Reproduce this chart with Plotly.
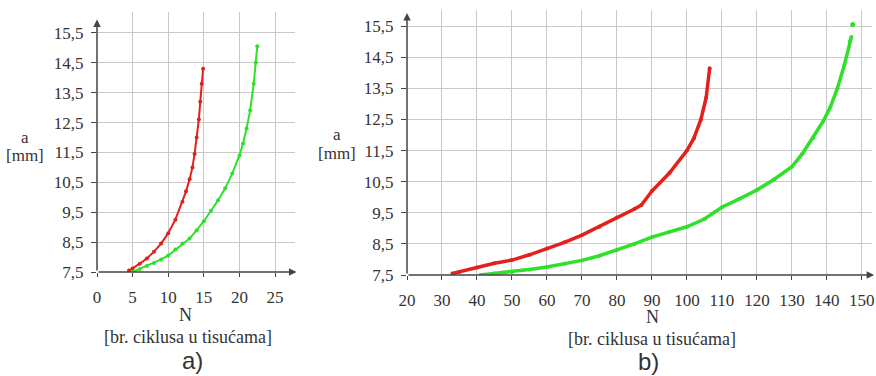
import plotly.graph_objects as go

# ---- data (panel a) ----
a_red_N = [4.5, 5, 6, 7, 8, 9, 10, 11, 12, 12.5, 13, 13.4, 13.7, 14.0, 14.3, 14.5, 14.7, 14.9]
a_red_a = [7.55, 7.62, 7.78, 7.95, 8.18, 8.45, 8.8, 9.25, 9.85, 10.2, 10.6, 11.0, 11.45, 12.0, 12.6, 13.2, 13.8, 14.3]
a_green_N = [5, 6, 7, 8, 9, 10, 11, 12, 13, 14, 15, 16, 17, 18, 19, 20, 20.5, 21, 21.5, 22, 22.3, 22.5]
a_green_a = [7.5, 7.6, 7.7, 7.8, 7.92, 8.05, 8.25, 8.45, 8.62, 8.9, 9.2, 9.55, 9.9, 10.3, 10.8, 11.4, 11.8, 12.3, 12.9, 13.8, 14.5, 15.05]

# ---- data (panel b) ----
b_red_N = [33, 35, 40, 45, 50, 55, 60, 65, 70, 75, 80, 85, 87, 90, 95, 100, 102, 104, 105.5, 106.5]
b_red_a = [7.55, 7.6, 7.74, 7.88, 7.98, 8.15, 8.35, 8.55, 8.78, 9.05, 9.35, 9.62, 9.75, 10.2, 10.78, 11.5, 11.9, 12.5, 13.2, 14.15]
b_green_N = [41, 45, 50, 55, 60, 65, 70, 75, 80, 85, 90, 95, 100, 105, 110, 115, 120, 125, 130, 133, 136, 139, 141, 143, 145, 146.5, 147.0]
b_green_a = [7.5, 7.55, 7.6, 7.68, 7.76, 7.86, 7.97, 8.12, 8.3, 8.5, 8.72, 8.88, 9.05, 9.3, 9.68, 9.95, 10.23, 10.58, 10.98, 11.4, 11.9, 12.45, 12.9, 13.5, 14.25, 15.0, 15.15]
b_green_outlier_N = [147.4]
b_green_outlier_a = [15.55]

# ---- ticks ----
y_tick_vals = [7.5, 8.5, 9.5, 10.5, 11.5, 12.5, 13.5, 14.5, 15.5]
y_tick_text = ["7,5", "8,5", "9,5", "10,5", "11,5", "12,5", "13,5", "14,5", "15,5"]
a_x_ticks = [0, 5, 10, 15, 20, 25]
b_x_ticks = [20, 30, 40, 50, 60, 70, 80, 90, 100, 110, 120, 130, 140, 150]

RED = "#e4201c"
GREEN = "#2fe02a"
GRID = "#c9c9c9"
AX = "#444444"
TXT = "#333333"
SERIF = "Liberation Serif, Times New Roman, serif"

fig = go.Figure()

fig.add_trace(go.Scatter(x=a_red_N, y=a_red_a, mode="lines+markers", xaxis="x", yaxis="y",
                         line=dict(color=RED, width=2), marker=dict(color=RED, size=4)))
fig.add_trace(go.Scatter(x=a_green_N, y=a_green_a, mode="lines+markers", xaxis="x", yaxis="y",
                         line=dict(color=GREEN, width=2), marker=dict(color=GREEN, size=4)))
fig.add_trace(go.Scatter(x=b_red_N, y=b_red_a, mode="lines+markers", xaxis="x2", yaxis="y2",
                         line=dict(color=RED, width=3.5), marker=dict(color=RED, size=4)))
fig.add_trace(go.Scatter(x=b_green_N, y=b_green_a, mode="lines+markers", xaxis="x2", yaxis="y2",
                         line=dict(color=GREEN, width=3.5), marker=dict(color=GREEN, size=4)))
fig.add_trace(go.Scatter(x=b_green_outlier_N, y=b_green_outlier_a, mode="markers", xaxis="x2", yaxis="y2",
                         marker=dict(color=GREEN, size=5)))

W, H = 876, 376

def px_x(p):
    return p / W

def px_y(p):
    return (H - p) / H

tickfont = dict(family=SERIF, size=17, color=TXT)
xcommon = dict(showgrid=True, gridcolor=GRID, gridwidth=1, zeroline=False, showline=False, automargin=False,
               ticks="outside", ticklen=4, tickcolor=AX, tickfont=tickfont, ticklabelstandoff=6)
ycommon = dict(showgrid=True, gridcolor=GRID, gridwidth=1, zeroline=False, showline=False, automargin=False,
               ticks="outside", ticklen=5, tickcolor=AX, tickfont=tickfont,
               tickvals=y_tick_vals, ticktext=y_tick_text, ticklabelstandoff=4)

fig.update_layout(
    width=W, height=H,
    margin=dict(l=0, r=0, t=0, b=0),
    paper_bgcolor="white", plot_bgcolor="white",
    showlegend=False,
    xaxis=dict(domain=[px_x(97), px_x(295)], range=[0, 27.8], tickvals=a_x_ticks, anchor="y", **xcommon),
    yaxis=dict(domain=[px_y(272), px_y(12)], range=[7.5, 16.2], anchor="x", **ycommon),
    xaxis2=dict(domain=[px_x(407), px_x(872)], range=[20, 152.9], tickvals=b_x_ticks, anchor="y2", **xcommon),
    yaxis2=dict(domain=[px_y(275), px_y(10)], range=[7.5, 16.02], anchor="x2", **ycommon),
)

# axis lines with arrows
arrow = dict(showarrow=True, arrowhead=2, arrowsize=1, arrowwidth=1.5, arrowcolor=AX, text="", standoff=0, startstandoff=0)
fig.add_annotation(x=28.0, y=7.5, ax=0, ay=7.5, xref="x", yref="y", axref="x", ayref="y", **arrow)
fig.add_annotation(x=0, y=15.95, ax=0, ay=7.5, xref="x", yref="y", axref="x", ayref="y", **arrow)
fig.add_annotation(x=153.5, y=7.5, ax=20, ay=7.5, xref="x2", yref="y2", axref="x2", ayref="y2", **arrow)
fig.add_annotation(x=20, y=15.92, ax=20, ay=7.5, xref="x2", yref="y2", axref="x2", ayref="y2", **arrow)

def label(text, x, y, size, family=SERIF):
    fig.add_annotation(text=text, x=px_x(x), y=px_y(y), xref="paper", yref="paper",
                       showarrow=False, xanchor="center", yanchor="middle",
                       font=dict(family=family, size=size, color=TXT))

# panel a labels
label("a", 25, 137, 17)
label("[mm]", 25, 155, 17)
label("N", 185, 315, 18)
label("[br. ciklusa u tisućama]", 188, 337, 18)
label("a)", 192, 360, 24, "Liberation Sans, Arial, sans-serif")

# panel b labels
label("a", 337, 134, 17)
label("[mm]", 337, 154, 17)
label("N", 652, 317, 18)
label("[br. ciklusa u tisućama]", 652, 339, 18)
label("b)", 648, 361, 24, "Liberation Sans, Arial, sans-serif")

fig.write_html("out.html", config={"displayModeBar": False},
               post_script="document.body.style.margin='0';document.body.style.padding='0';")
